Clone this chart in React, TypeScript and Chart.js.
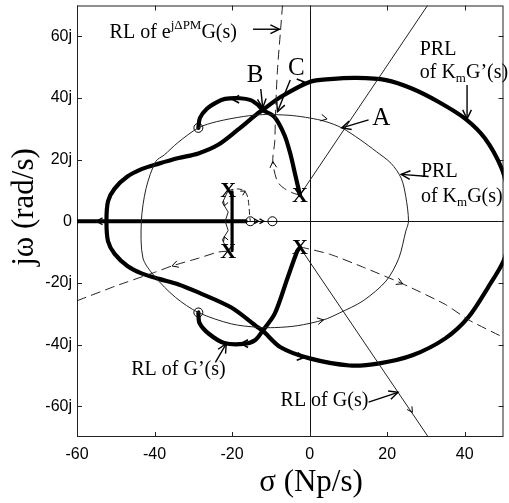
import React, { useEffect, useRef } from 'react';
import { Chart, registerables } from 'chart.js';
Chart.register(...registerables);

type P = [number, number];

const xTicks = [-60, -40, -20, 0, 20, 40];
const yTicks = [-60, -40, -20, 0, 20, 40, 60];

// PRL of KmG'(s) — closed contour (starts at the clipped right end)
const prlGp: P[] = [
  [52.5, 0], [51.5, -6], [50, -12.9], [46, -21.5], [40.9, -31.2], [35, -38],
  [26.5, -43.5], [18, -46.1], [10.3, -46.8], [0, -44.5], [-7.5, -40.9], [-12.1, -35.5], [-13.4, -34.4],
  [-20.2, -28], [-28.7, -23.1], [-33.8, -20.5], [-38.9, -18.7], [-43.2, -17], [-47, -14.5],
  [-50.3, -10.6], [-52, -6.5], [-52.4, 0], [-52, 6.5], [-50.3, 10.6], [-47, 14.5], [-43.2, 17],
  [-38.9, 18.7], [-33.8, 20.5], [-28.7, 22], [-23.6, 24.8], [-18.5, 29.7], [-13.4, 35], [-12.1, 36.1],
  [-7.5, 40.3], [0, 45.2], [5.2, 46.1], [12.1, 46.5], [19.7, 45.8], [26.5, 43], [33.3, 38.7],
  [40.1, 33.3], [45.2, 26.9], [49.5, 17.2], [51.5, 8], [52.5, 0],
];

// PRL of KmG(s) — thin closed contour
const prlG: P[] = [
  [-9, 34.6], [-12.1, 34.6], [-17, 34], [-24, 32.3], [-28.7, 30.3],
  [-34, 25.5], [-37.5, 21.5], [-39.7, 19.4], [-42.2, 10.6], [-43.4, 0], [-43, -11.9], [-40.1, -17.7],
  [-34.6, -24.7], [-28.7, -29.6], [-20.2, -33.3], [-13.4, -34.4], [-9, -34.5], [-3.2, -33.9],
  [3.6, -32], [7.8, -29.7], [13.8, -25.8], [19.7, -19.4], [23, -12], [24.8, -3.2], [25.5, 0],
  [24.8, 8], [23.6, 14], [21, 18.8], [17.2, 22.6], [13, 26.5], [8.3, 30.3], [4, 32.4],
  [0, 33.5], [-4.5, 34.3], [-9, 34.6],
];

// RL of G(s)
const rlGUpper: P[] = [[-2.5, 8.5], [30.4, 70]];
const rlGLower: P[] = [[-2.5, -8.5], [30.6, -70]];

// RL of G'(s) — thick loops
const rlGpUpper: P[] = [
  [-28.7, 30.3], [-28.3, 33.5], [-26.5, 36.5], [-24, 38.6], [-21.8, 39.7], [-18, 39.9],
  [-15.2, 39.3], [-13.4, 37.8], [-12.1, 36.1], [-9.1, 33.9], [-6.5, 28], [-4.9, 21.5],
  [-3.7, 15], [-2.5, 8.5],
];
const rlGpLower: P[] = [
  [-28.7, -29.6], [-28.4, -33], [-26, -36.5], [-22, -39.5], [-17, -39.8], [-14, -38.5],
  [-12.1, -35.5], [-9, -30], [-5.7, -18.4], [-3.2, -9.7], [-2.5, -8.5],
];
const thickRealAxis: P[] = [[-60, 0], [-16.5, 0]];
const thickVertical: P[] = [[-20, 9.5], [-20, -9.5]];
const thinZig: P[] = [[-21, 10], [-22.5, 6], [-21, 3], [-21.8, 0], [-21, -3], [-22.5, -6], [-21, -10]];

// RL of e^{jΔPM}G(s) — dashed
const dashUpper: P[] = [
  [-2.5, 8.5], [-4, 9], [-6.5, 10.6], [-8.3, 12.9], [-9.5, 19.4], [-9, 25.8], [-8.8, 35.5],
  [-8.3, 49], [-7.5, 62], [-7, 70],
];
const dashSmall: P[] = [[-21, 10], [-18.5, 10.5], [-16.7, 9.7], [-15.9, 7.4], [-15.4, 1], [-15.3, 0]];
const dashLowerLeft: P[] = [
  [-21, -9.7], [-23.6, -10], [-28.7, -12], [-35.5, -14.5], [-40, -16.6], [-50, -21], [-60, -25.8],
];
const dashLowerRight: P[] = [
  [-2.5, -8.3], [5.2, -10.7], [14, -15], [24, -20.3], [35, -27], [41, -32], [50, -37.7],
];

const zeros: P[] = [[-28.7, 30.3], [-28.7, -29.6], [-15.3, 0], [-9.6, 0]];
const poles: P[] = [[-21, 10], [-21, -9.7], [-2.5, 8.5], [-2.5, -8.3]];

// curve arrowheads: sigma, omega, screen angle (deg), size, width
const curveArrows: [number, number, number, number, number][] = [
  [-1.4, 45.2, -8, 8, 1.6], [-1.4, -44.2, 8, 8, 1.6], [-20, 39.6, 180, 8, 1.6],
  [-17.7, -39.7, 180, 8, 1.6], [4.5, 33.2, 12, 7, 1], [3.6, -32, -12, 7, 1],
  [26.5, -62, 57, 6, 1], [24, -20.3, 24, 7, 1], [-35.5, -14.5, 162, 7, 1],
  [-9.5, 19.4, -95, 7, 1], [-55, 0, 180, 7, 1.3], [-13.2, 0, 0, 5, 1.3], [-11.8, 0, 0, 5, 1.3],
  [-22, 5, 110, 5, 1], [-22, -5, -110, 5, 1], [-16.6, 9.8, -30, 5, 1],
];

// annotation arrows: from (sigma, omega) to (sigma, omega)
const labelArrows: [number, number, number, number][] = [
  [-14.6, 62.3, -7.8, 62.3], [-12.6, 42.9, -12.1, 36.8], [-5, 45.8, -8.3, 35.5],
  [15.2, 32.9, 8.3, 30.3], [40.6, 44.2, 40.6, 33.2], [30.7, 14.5, 23.6, 15.2],
  [-24.3, -45.8, -21.5, -39.7], [15.2, -58.7, 22.8, -55.5],
];

type Seg = [string, number]; // 0 normal, 1 sup, 2 sub
const labels: { segs: Seg[]; x: number; y: number; align: 'left' | 'center'; size: number }[] = [
  { segs: [['RL of e', 0], ['jΔPM', 1], ['G(s)', 0]], x: -51.6, y: 61.3, align: 'left', size: 20 },
  { segs: [['B', 0]], x: -14.1, y: 47.4, align: 'center', size: 25 },
  { segs: [['C', 0]], x: -3.4, y: 49.7, align: 'center', size: 25 },
  { segs: [['A', 0]], x: 18.5, y: 33.5, align: 'center', size: 25 },
  { segs: [['PRL', 0]], x: 28.4, y: 55.8, align: 'left', size: 20 },
  { segs: [['of K', 0], ['m', 2], ['G’(s)', 0]], x: 28.4, y: 48.1, align: 'left', size: 20 },
  { segs: [['PRL', 0]], x: 28.7, y: 16.1, align: 'left', size: 20 },
  { segs: [['of K', 0], ['m', 2], ['G(s)', 0]], x: 28.7, y: 8.1, align: 'left', size: 20 },
  { segs: [['RL of G’(s)', 0]], x: -46, y: -48.1, align: 'left', size: 20 },
  { segs: [['RL of G(s)', 0]], x: -7.5, y: -58.4, align: 'left', size: 20 },
];

const SERIF = '"Liberation Serif", "Times New Roman", serif';
const SANS = '"Liberation Sans", Arial, sans-serif';

const pts = (a: P[]) => a.map(([x, y]) => ({ x, y }));

function line(data: P[], width: number, dash: number[] = [], color = '#000', tension = 0.3) {
  return {
    data: pts(data), showLine: true, borderColor: color, borderWidth: width, borderDash: dash,
    pointRadius: 0, tension, fill: false, borderCapStyle: 'round', borderJoinStyle: 'round',
  };
}

function chevron(ctx: CanvasRenderingContext2D, x: number, y: number, ang: number, size: number, w: number, spread = 0.5) {
  ctx.save();
  ctx.lineWidth = w;
  ctx.strokeStyle = '#000';
  ctx.beginPath();
  ctx.moveTo(x - size * Math.cos(ang - spread), y - size * Math.sin(ang - spread));
  ctx.lineTo(x, y);
  ctx.lineTo(x - size * Math.cos(ang + spread), y - size * Math.sin(ang + spread));
  ctx.stroke();
  ctx.restore();
}

function drawRich(ctx: CanvasRenderingContext2D, segs: Seg[], x: number, y: number, align: string, size: number) {
  const small = Math.round(size * 0.65);
  let total = 0;
  for (const [t, k] of segs) {
    ctx.font = `${k ? small : size}px ${SERIF}`;
    total += ctx.measureText(t).width;
  }
  let cx = align === 'center' ? x - total / 2 : x;
  ctx.textBaseline = 'middle';
  ctx.textAlign = 'left';
  ctx.fillStyle = '#000';
  for (const [t, k] of segs) {
    ctx.font = `${k ? small : size}px ${SERIF}`;
    const dy = k === 1 ? -size * 0.33 : k === 2 ? size * 0.3 : 0;
    ctx.fillText(t, cx, y + dy);
    cx += ctx.measureText(t).width;
  }
}

const decor = {
  id: 'decor',
  beforeDatasetsDraw(chart: any) {
    const { ctx, chartArea: a, scales } = chart;
    const sx = scales.x, sy = scales.y;
    ctx.save();
    ctx.strokeStyle = '#111';
    ctx.lineWidth = 1;
    const x0 = Math.round(sx.getPixelForValue(0)) + 0.5;
    const y0 = Math.round(sy.getPixelForValue(0)) + 0.5;
    ctx.beginPath();
    ctx.moveTo(x0, a.top); ctx.lineTo(x0, a.bottom);
    ctx.moveTo(a.left, y0); ctx.lineTo(a.right, y0);
    ctx.stroke();
    ctx.strokeStyle = '#222';
    ctx.strokeRect(a.left + 0.5, a.top + 0.5, a.right - a.left - 1, a.bottom - a.top - 1);
    ctx.beginPath();
    for (const v of xTicks) {
      const p = Math.round(sx.getPixelForValue(v)) + 0.5;
      ctx.moveTo(p, a.bottom); ctx.lineTo(p, a.bottom - 5);
      ctx.moveTo(p, a.top); ctx.lineTo(p, a.top + 5);
    }
    for (const v of yTicks) {
      const p = Math.round(sy.getPixelForValue(v)) + 0.5;
      ctx.moveTo(a.left, p); ctx.lineTo(a.left + 5, p);
      ctx.moveTo(a.right, p); ctx.lineTo(a.right - 5, p);
    }
    ctx.stroke();
    ctx.restore();
  },
  afterDatasetsDraw(chart: any) {
    const { ctx, scales } = chart;
    const sx = scales.x, sy = scales.y;
    const X = (v: number) => sx.getPixelForValue(v);
    const Y = (v: number) => sy.getPixelForValue(v);
    ctx.save();
    ctx.fillStyle = '#000';
    ctx.font = `bold 22px ${SERIF}`;
    ctx.textAlign = 'center';
    ctx.textBaseline = 'middle';
    for (const [s, w] of poles) ctx.fillText('X', X(s), Y(w) + 1);
    for (const [s, w, ang, size, lw] of curveArrows) chevron(ctx, X(s), Y(w), (ang * Math.PI) / 180, size, lw);
    ctx.strokeStyle = '#000';
    for (const [s1, w1, s2, w2] of labelArrows) {
      const x1 = X(s1), y1 = Y(w1), x2 = X(s2), y2 = Y(w2);
      ctx.lineWidth = 1.4;
      ctx.beginPath(); ctx.moveTo(x1, y1); ctx.lineTo(x2, y2); ctx.stroke();
      chevron(ctx, x2, y2, Math.atan2(y2 - y1, x2 - x1), 10, 1.4, 0.45);
    }
    for (const l of labels) drawRich(ctx, l.segs, X(l.x), Y(l.y), l.align, l.size);
    ctx.restore();
  },
  afterDraw(chart: any) {
    const { ctx } = chart;
    ctx.save();
    ctx.fillStyle = '#000';
    ctx.font = `31px ${SERIF}`;
    ctx.textAlign = 'center';
    ctx.textBaseline = 'middle';
    ctx.fillText('σ (Np/s)', 311, 483);
    ctx.translate(25, 207);
    ctx.rotate(-Math.PI / 2);
    ctx.fillText('jω (rad/s)', 0, 0);
    ctx.restore();
  },
};

export default function App() {
  const ref = useRef<HTMLCanvasElement>(null);
  useEffect(() => {
    if (!ref.current) return;
    const chart = new Chart(ref.current, {
      type: 'scatter',
      data: {
        datasets: [
          line(prlG, 1, [], '#222', 0.3),
          line(rlGUpper, 1, [], '#222', 0),
          line(rlGLower, 1, [], '#222', 0),
          line(thinZig, 1, [], '#222', 0),
          line(dashUpper, 1, [9, 6], '#222', 0.3),
          line(dashSmall, 1, [5, 4], '#222', 0.3),
          line(dashLowerLeft, 1, [9, 6], '#222', 0.2),
          line(dashLowerRight, 1, [9, 6], '#222', 0.2),
          line(prlGp, 4.2, [], '#000', 0.3),
          line(rlGpUpper, 4.2, [], '#000', 0.3),
          line(rlGpLower, 4.2, [], '#000', 0.3),
          line(thickRealAxis, 4.2, [], '#000', 0),
          line(thickVertical, 3.2, [], '#000', 0),
          {
            data: pts(zeros), showLine: false, pointRadius: 4.5, pointBorderWidth: 1,
            pointBackgroundColor: 'rgba(0,0,0,0)', pointBorderColor: '#000', pointStyle: 'circle',
          },
        ] as any,
      },
      options: {
        animation: false,
        responsive: false,
        maintainAspectRatio: false,
        layout: { padding: { top: 3, right: 0, left: 0, bottom: 0 } },
        plugins: { legend: { display: false }, tooltip: { enabled: false } },
        scales: {
          x: {
            type: 'linear', min: -60, max: 50,
            afterBuildTicks: (s: any) => { s.ticks = xTicks.map((v) => ({ value: v })); },
            afterFit: (s: any) => { s.height = 66; s.paddingLeft = 0; s.paddingRight = 0; },
            grid: { display: false, drawTicks: false },
            border: { display: false },
            ticks: { font: { family: SANS, size: 16 }, color: '#000', padding: 8, maxRotation: 0, autoSkip: false },
          },
          y: {
            type: 'linear', min: -70, max: 70,
            afterBuildTicks: (s: any) => { s.ticks = yTicks.map((v) => ({ value: v })); },
            afterFit: (s: any) => { s.width = 77; s.paddingTop = 0; s.paddingBottom = 0; },
            grid: { display: false, drawTicks: false },
            border: { display: false },
            ticks: {
              font: { family: SANS, size: 16 }, color: '#000', padding: 5, autoSkip: false,
              callback: (v: any) => (v === 0 ? '0' : `${v}j`),
            },
          },
        },
      } as any,
      plugins: [decor],
    });
    return () => chart.destroy();
  }, []);
  return (
    <div style={{ position: 'absolute', left: 0, top: 0, width: 509, height: 503, background: '#fff' }}>
      <canvas ref={ref} width={509} height={503} style={{ display: 'block' }} />
    </div>
  );
}
